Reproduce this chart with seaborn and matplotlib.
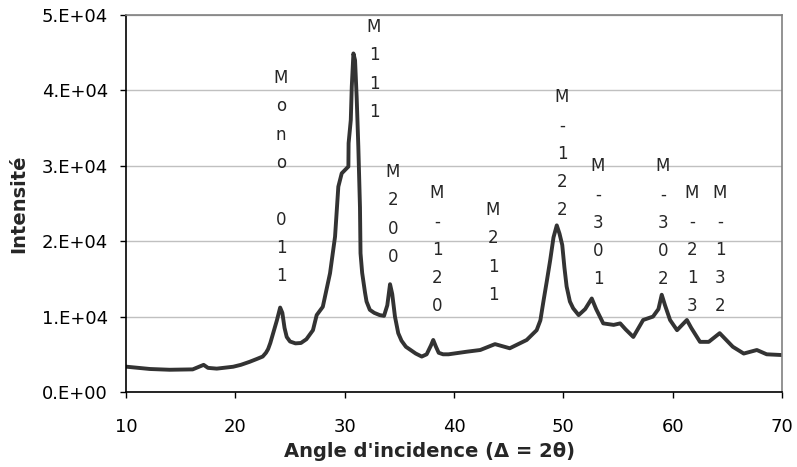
"""
XRD pattern - intensity vs. incidence angle with monoclinic peak labels.
"""

import matplotlib
matplotlib.use("Agg")
import matplotlib.pyplot as plt
import seaborn as sns

sns.set_style("white")
plt.rcParams["font.family"] = ["DejaVu Sans"]

# ── Data ──────────────────────────────────────────────────────────────────────
two_theta = [10, 12.2, 14, 16.1, 17.1, 17.5, 18.3, 19.8, 20.5, 21.3, 22.0, 22.5,
             22.8, 23.0, 23.2, 23.5, 23.8, 24.1, 24.3, 24.5, 24.7, 25.0, 25.5,
             26.0, 26.5, 27.1, 27.44, 28.0, 28.66, 29.12, 29.42, 29.73, 30.34,
             30.36, 30.56, 30.65, 30.8, 30.95, 31.1, 31.25, 31.4, 31.45, 31.6,
             31.86, 32.0, 32.3, 32.7, 33.2, 33.6, 33.9, 34.15, 34.35, 34.6, 34.9,
             35.2, 35.6, 36.0, 36.5, 37.05, 37.5, 37.9, 38.1, 38.35, 38.6, 39.0,
             39.5, 41.2, 42.4, 43.75, 45.1, 46.65, 47.56, 47.9, 48.2, 48.5, 48.8,
             49.1, 49.4, 49.65, 49.9, 50.1, 50.3, 50.6, 50.9, 51.4, 52.0, 52.6,
             53.0, 53.65, 54.6, 55.2, 55.7, 56.4, 57.3, 58.2, 58.7, 59.0, 59.3,
             59.76, 60.4, 61.3, 61.7, 62.5, 63.3, 64.3, 65.5, 66.5, 67.7, 68.6, 70]
intensity = [3360, 3050, 2950, 3000, 3600, 3200, 3100, 3350, 3600, 4000, 4400, 4700,
             5200, 5700, 6500, 8000, 9500, 11200, 10500, 8500, 7300, 6700, 6450,
             6500, 7000, 8200, 10200, 11300, 15740, 20600, 27230, 29000, 29900,
             33000, 36070, 40490, 44900, 44000, 39000, 32500, 24500, 18400, 15800,
             13200, 12000, 10900, 10500, 10200, 10100, 11500, 14300, 13000, 10000, 7800,
             6800, 6000, 5600, 5100, 4700, 5000, 6200, 6900, 6000, 5200, 5000,
             5000, 5350, 5570, 6350, 5800, 6900, 8200, 9500, 12200, 14800, 17500,
             20500, 22100, 21000, 19500, 16500, 14000, 12000, 11100, 10200, 11000, 12400,
             11000, 9100, 8900, 9100, 8300, 7300, 9550, 10000, 11000, 12900, 11500,
             9550, 8200, 9550, 8500, 6650, 6650, 7800, 6000, 5100, 5570, 5000, 4900]

peak_labels = ["Mono 011", "M111", "M200", "M-120", "M211",
               "M-122", "M-301", "M-302", "M-213", "M-132"]
peak_x = [24.18, 32.68, 34.42, 38.45, 43.57, 49.88, 53.17, 59.12, 61.77, 64.33]
peak_y = [41640, 48400, 29170, 26390, 24130, 39120, 29970, 29970, 26390, 26390]

yticks = [0, 10000, 20000, 30000, 40000, 50000]
ytick_labels = ["0.E+00", "1.E+04", "2.E+04", "3.E+04", "4.E+04", "5.E+04"]
xticks = [10, 20, 30, 40, 50, 60, 70]

# ── Plot ─────────────────────────────────────────────────────────────────────
fig = plt.figure(figsize=(7.97, 4.67), dpi=100)
ax = fig.add_axes([126 / 797, 75 / 467, 656 / 797, 377 / 467])

sns.lineplot(x=two_theta, y=intensity, color="#333333", linewidth=2.8,
             sort=False, ax=ax)

ax.set_xlim(10, 70)
ax.set_ylim(0, 50000)
ax.set_xticks(xticks)
ax.set_yticks(yticks)
ax.set_yticklabels(ytick_labels)
ax.tick_params(axis="both", labelsize=13, direction="out", length=4.5, width=1,
               color="black", labelcolor="black", left=True, bottom=True)
ax.tick_params(axis="x", pad=14.5)
ax.tick_params(axis="y", pad=8.5)

ax.grid(axis="y", color="#c0c0c0", linewidth=1)
ax.grid(axis="x", visible=False)
for side in ["left", "bottom"]:
    ax.spines[side].set_color("black")
    ax.spines[side].set_linewidth(1.2)
for side in ["top", "right"]:
    ax.spines[side].set_color("#808080")
    ax.spines[side].set_linewidth(1.2)

ax.set_xlabel("Angle d'incidence (Δ = 2θ)", fontsize=14, fontweight="bold")
ax.set_ylabel("Intensité", fontsize=14, fontweight="bold")
ax.xaxis.set_label_coords((429 - 126) / 656, -(442 - 392) / 377)
ax.yaxis.set_label_coords(-(126 - 28) / 656, 0.5)

# stacked (vertical) peak labels, one character per line
for label, x, y in zip(peak_labels, peak_x, peak_y):
    for i, ch in enumerate(label):
        ax.annotate(ch, (x, y), xytext=(0, -i * 20.4), textcoords="offset points",
                    ha="center", va="center", fontsize=12)

plt.savefig("out.png", dpi=100)
